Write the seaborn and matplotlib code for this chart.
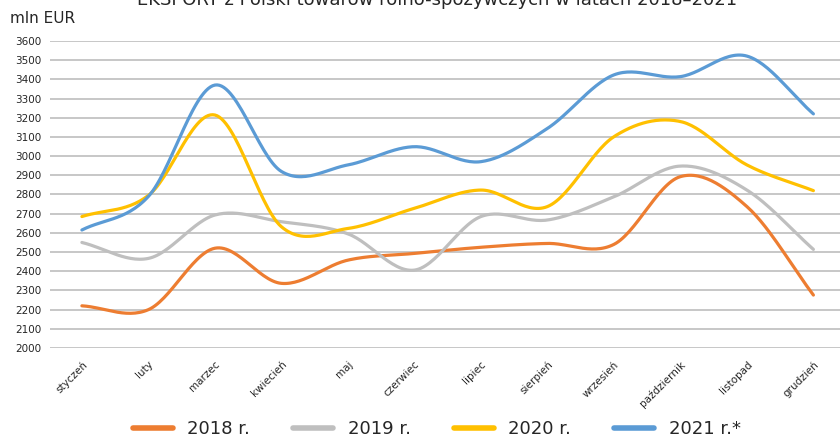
import numpy as np
import pandas as pd
import matplotlib
matplotlib.use("Agg")
import matplotlib.pyplot as plt
from matplotlib.lines import Line2D
import seaborn as sns

months = ["styczeń", "luty", "marzec", "kwiecień", "maj", "czerwiec",
          "lipiec", "sierpień", "wrzesień", "październik", "listopad", "grudzień"]

exp_2018 = [2220, 2200, 2520, 2337, 2458, 2493, 2525, 2545, 2540, 2893, 2737, 2276]
exp_2019 = [2550, 2467, 2693, 2658, 2595, 2406, 2685, 2667, 2788, 2948, 2823, 2514]
exp_2020 = [2685, 2795, 3214, 2632, 2623, 2728, 2823, 2737, 3101, 3180, 2954, 2820]
exp_2021 = [2615, 2790, 3370, 2920, 2954, 3049, 2971, 3144, 3423, 3414, 3521, 3220]

series = {"2018 r.": exp_2018, "2019 r.": exp_2019,
          "2020 r.": exp_2020, "2021 r.*": exp_2021}
colors = {"2018 r.": "#ED7D31", "2019 r.": "#BFBFBF",
          "2020 r.": "#FFC000", "2021 r.*": "#5B9BD5"}


def smooth(vals, steps=30):
    # Catmull-Rom style curve like the "smoothed line" option in Excel
    v = np.asarray(vals, dtype=float)
    n = len(v)
    tang = np.zeros(n)
    tang[1:-1] = (v[2:] - v[:-2]) / 2
    tang[0] = v[1] - v[0]
    tang[-1] = v[-1] - v[-2]
    xs, ys = [], []
    for i in range(n - 1):
        t = np.linspace(0, 1, steps, endpoint=(i == n - 2))
        h00 = 2 * t**3 - 3 * t**2 + 1
        h10 = t**3 - 2 * t**2 + t
        h01 = -2 * t**3 + 3 * t**2
        h11 = t**3 - t**2
        ys.append(h00 * v[i] + h10 * tang[i] + h01 * v[i + 1] + h11 * tang[i + 1])
        xs.append(i + t)
    return np.concatenate(xs), np.concatenate(ys)


rows = []
for name, vals in series.items():
    xs, ys = smooth(vals)
    rows.append(pd.DataFrame({"x": xs, "value": ys, "year": name}))
df = pd.concat(rows, ignore_index=True)

sns.set_style("white")
plt.rcParams["font.family"] = ["DejaVu Sans"]

fig = plt.figure(figsize=(8.4, 4.4), dpi=100)
ax = fig.add_axes([0.0595, 0.209, 0.9405, 0.698])

sns.lineplot(data=df, x="x", y="value", hue="year", palette=colors,
             linewidth=2.3, legend=False, ax=ax, sort=False)

ax.set_ylim(2000, 3600)
ax.set_xlim(-0.48, 11.4)
ax.set_yticks(range(2000, 3601, 100))
ax.set_yticklabels([str(v) for v in range(2000, 3601, 100)], fontsize=7.5)
ax.set_xticks(range(len(months)))
ax.set_xticklabels(months, rotation=45, ha="right", rotation_mode="anchor",
                   fontsize=7.5)
ax.tick_params(axis="both", length=0)
ax.tick_params(axis="y", pad=6)
ax.tick_params(axis="x", pad=8)
ax.yaxis.grid(True, color="#BDBDBD", linewidth=1.2)
ax.set_axisbelow(True)
for s in ax.spines.values():
    s.set_visible(False)
ax.set_xlabel("")
ax.set_ylabel("")

fig.text(0.52, 1.0, "EKSPORT z Polski towarów rolno-spożywczych w latach 2018–2021",
         ha="center", va="center", fontsize=13)
fig.text(0.012, 0.958, "mln EUR", ha="left", va="center", fontsize=11)

handles = [Line2D([0], [0], color=colors[k], linewidth=4) for k in series]
fig.legend(handles, list(series.keys()), loc="center", bbox_to_anchor=(0.52, 0.025),
           ncol=4, frameon=False, fontsize=13, handlelength=2.2,
           columnspacing=2.4, handletextpad=0.8)

fig.savefig("out.png", dpi=100)
